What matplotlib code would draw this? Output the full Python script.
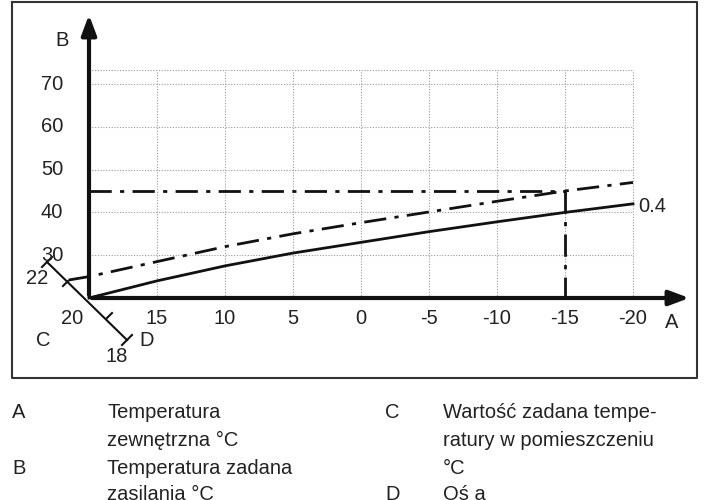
import matplotlib
matplotlib.use("Agg")
import matplotlib.pyplot as plt
import numpy as np

plt.rcParams['font.family'] = ['Liberation Sans', 'DejaVu Sans']

x_out = [20, 15, 10, 5, 0, -5, -10, -15, -20]
curve_04 = [20, 24, 27.5, 30.5, 33, 35.5, 37.8, 40, 42]
x_dd = [21.5, 20, 15, 10, 5, 0, -5, -10, -15, -20]
curve_dd = [24.2, 25, 28.5, 32, 35, 37.6, 40.1, 42.6, 45, 47]
xticks = [15, 10, 5, 0, -5, -10, -15, -20]
yticks = [30, 40, 50, 60, 70]

W, H = 720, 500
px_x = 13.6
px_y = 4.28
ox, oy = 89, 298
FS = 14.5

fig = plt.figure(figsize=(7.2, 5), dpi=100)
ax = fig.add_axes([0, 0, 1, 1])
ax.set_xlim(20 + ox / px_x, 20 - (W - ox) / px_x)
ax.set_ylim(20 - (H - oy) / px_y, 20 + oy / px_y)
ax.axis('off')

def P(px, py):
    return (20 + (ox - px) / px_x, 20 + (oy - py) / px_y)

def T(px, py, s, **kw):
    fig.text(px / W, 1 - py / H, s, fontsize=FS, color='#222', **kw)

x0, y0 = P(12, 2); x1, y1 = P(697, 378)
ax.plot([x0, x1, x1, x0, x0], [y0, y0, y1, y1, y0], color='#333', lw=1.5)

gtop = P(0, 70)[1]
for v in xticks:
    ax.plot([v, v], [20, gtop], color='#999', lw=0.8, ls=(0, (1, 1.5)))
for v in yticks + [gtop]:
    ax.plot([20, -20], [v, v], color='#999', lw=0.8, ls=(0, (1, 1.5)))

ax.annotate('', xy=P(ox, 12), xytext=(20, 20),
            arrowprops=dict(arrowstyle='-|>,head_length=1.2,head_width=0.45', lw=3, color='#111'))
ax.annotate('', xy=P(692, oy), xytext=(20, 20),
            arrowprops=dict(arrowstyle='-|>,head_length=1.2,head_width=0.45', lw=3, color='#111'))

dd = (0, (8, 3, 1.5, 3))
ax.plot(x_out, curve_04, color='#111', lw=2)
ax.plot(x_dd, curve_dd, color='#111', lw=2, ls=dd)
ax.plot([20, -15], [45, 45], color='#111', lw=2, ls=dd)
ax.plot([-15, -15], [45, 20], color='#111', lw=2, ls=dd)

a = P(47, 262); b = P(127, 340)
ax.plot([a[0], b[0]], [a[1], b[1]], color='#111', lw=1.5)
for (px, py) in [(47, 262), (127, 340)]:
    p1 = P(px - 5, py + 5); p2 = P(px + 5, py - 5)
    ax.plot([p1[0], p2[0]], [p1[1], p2[1]], color='#111', lw=1.5)
for (px, py, dx) in [(68, 281, -5), (107, 318, 5)]:
    p1 = P(px, py); p2 = P(px + dx, py - dx)
    ax.plot([p1[0], p2[0]], [p1[1], p2[1]], color='#111', lw=1.5)

for v in xticks:
    ax.text(v, P(0, 318)[1], str(v), ha='center', va='center', fontsize=FS, color='#222')
for v in yticks:
    ax.text(P(52, 0)[0], v, str(v), ha='center', va='center', fontsize=FS, color='#222')

T(62, 40, 'B', ha='center', va='center')
T(672, 322, 'A', ha='center', va='center')
T(37, 278, '22', ha='center', va='center')
T(72, 318, '20', ha='center', va='center')
T(43, 341, 'C', ha='center', va='center')
T(147, 341, 'D', ha='center', va='center')
T(117, 357, '18', ha='center', va='center')
T(652, 207, '0.4', ha='center', va='center')

rows = [(413, 'A', 'Temperatura', 'C', 'Wartość zadana tempe-'),
        (440, '', 'zewnętrzna °C', '', 'ratury w pomieszczeniu'),
        (468, 'B', 'Temperatura zadana', '', '°C'),
        (495, '', 'zasilania °C', 'D', 'Oś a')]
for y, k1, t1, k2, t2 in rows:
    T(12, y, k1, va='center')
    T(107, y, t1, va='center')
    T(385, y, k2, va='center')
    T(443, y, t2, va='center')

fig.savefig('out.png', dpi=100)
